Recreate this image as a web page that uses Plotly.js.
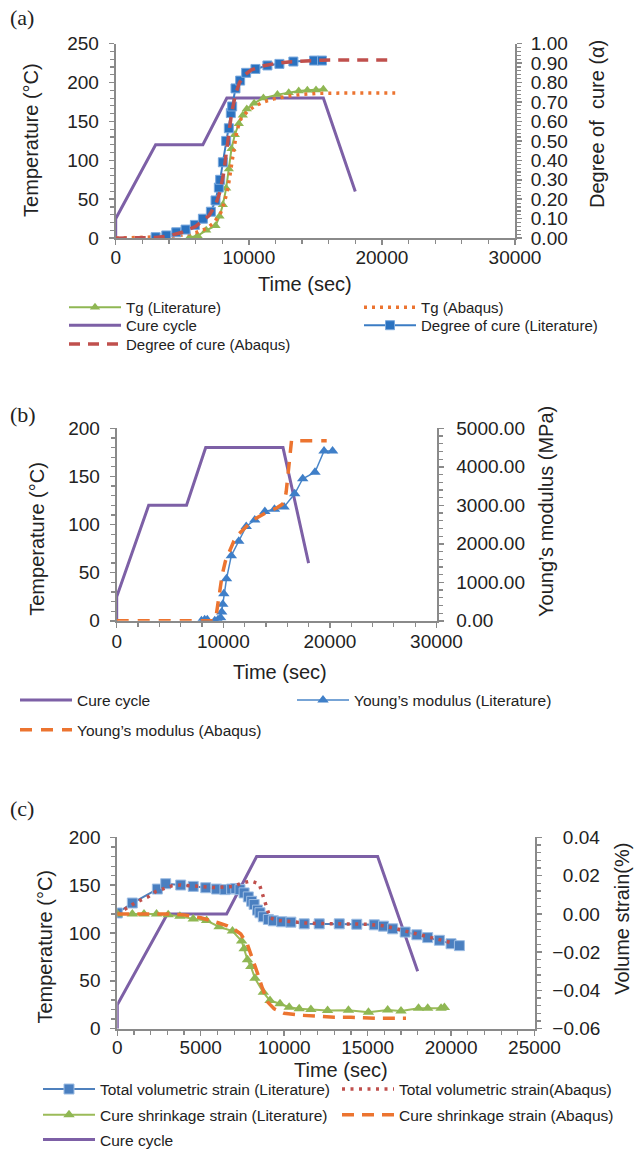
<!DOCTYPE html>
<html><head><meta charset="utf-8">
<script src="https://cdn.plot.ly/plotly-3.0.1.min.js"></script>
<style>html,body{margin:0;padding:0;background:#fff;width:636px;height:1157px;overflow:hidden}#chart{display:block;width:636px;height:1157px;overflow:hidden}</style>
</head><body><div id="chart"></div>
<script>
// ---------- shared cure cycle ----------
const cureTime = [0, 0, 3000, 6550, 8350, 15600, 18000];
const cureTemp = [0, 25, 120, 120, 180, 180, 60];

// ---------- panel (a) ----------
const tgLitTime = [5550, 6150, 6800, 7500, 7800, 8050, 8300, 8500, 8700, 8950, 9250, 9550, 9850, 10400, 11100, 12150, 13000, 13750, 14400, 15050, 15600];
const tgLitVal  = [1, 3, 10, 16, 28, 43, 64, 89, 115, 133, 147, 158, 166, 173.5, 180, 184.5, 187, 189, 190, 190.5, 191.5];
const tgAbqTime = [0, 1000, 2000, 3000, 4000, 5000, 6000, 6800, 7400, 7900, 8200, 8450, 8650, 8850, 9100, 9400, 9900, 10400, 11100, 11900, 12900, 13900, 15000, 17000, 21000];
const tgAbqVal  = [0, 0.5, 1, 1, 2, 4, 7, 12, 20, 33, 48, 66, 88, 112, 138, 153, 163, 169, 175, 179, 182.5, 184.5, 186, 186.5, 186.5];
const docLitTime = [3000, 3800, 4550, 5250, 5950, 6550, 7150, 7500, 7750, 7850, 8050, 8300, 8500, 8650, 8750, 9000, 9350, 9800, 10500, 11400, 12300, 13350, 14900, 15500];
const docLitVal  = [0.005, 0.014, 0.03, 0.044, 0.068, 0.10, 0.136, 0.194, 0.26, 0.30, 0.39, 0.50, 0.565, 0.643, 0.677, 0.77, 0.81, 0.85, 0.87, 0.888, 0.896, 0.908, 0.913, 0.913];
const docAbqTime = [0, 1000, 2000, 3000, 4000, 5000, 6000, 6500, 7000, 7500, 7800, 8100, 8400, 8700, 9000, 9300, 9700, 10200, 11000, 12000, 13000, 14000, 15500, 17000, 21000];
const docAbqVal  = [0, 0, 0, 0.003, 0.012, 0.03, 0.06, 0.085, 0.115, 0.17, 0.23, 0.33, 0.48, 0.64, 0.74, 0.8, 0.84, 0.865, 0.885, 0.898, 0.906, 0.911, 0.915, 0.916, 0.916];

// ---------- panel (b) ----------
const ymLitTime = [7950, 8250, 8500, 9200, 9500, 9750, 9850, 9950, 10050, 10300, 10750, 11450, 12150, 12950, 13900, 14800, 15700, 16700, 17450, 18600, 19450, 20250];
const ymLitVal  = [0, 25, 25, 5, 25, 80, 230, 430, 705, 1090, 1690, 2070, 2450, 2620, 2840, 2900, 2960, 3300, 3690, 3860, 4410, 4410];
const ymAbqTime = [0, 9000, 9300, 9500, 9700, 9900, 10200, 10600, 11000, 11500, 12000, 12500, 13000, 13500, 14000, 14500, 15000, 15500, 15750, 15900, 16050, 16200, 16400, 17500, 18500, 19700];
const ymAbqVal  = [0, 0, 80, 450, 850, 1200, 1550, 1820, 2080, 2270, 2420, 2540, 2650, 2740, 2810, 2870, 2930, 3020, 3100, 3350, 3750, 4300, 4680, 4680, 4680, 4680];

// ---------- panel (c) ----------
const tvsLitTime = [0, 900, 2400, 2900, 3800, 4550, 5300, 5950, 6450, 6850, 7100, 7350, 7600, 7850, 8050, 8200, 8400, 8550, 8750, 9050, 9350, 9850, 10400, 11200, 12100, 13300, 14350, 15400, 15950, 16500, 17250, 17950, 18600, 19300, 20000, 20500];
const tvsLitVal  = [0.0005, 0.0057, 0.013, 0.0158, 0.0151, 0.0144, 0.0137, 0.013, 0.0127, 0.013, 0.0133, 0.0127, 0.011, 0.0089, 0.0066, 0.0049, 0.002, 0.0006, -0.0015, -0.0029, -0.0036, -0.0041, -0.0043, -0.0052, -0.0052, -0.0052, -0.0054, -0.0057, -0.0064, -0.0078, -0.0095, -0.0109, -0.0124, -0.0138, -0.0156, -0.0166];
const tvsAbqTime = [0, 450, 900, 1400, 1900, 2300, 2800, 3300, 3800, 4350, 4900, 5400, 5950, 6450, 6950, 7450, 8000, 8500, 8650, 8800, 8950, 9150, 9550, 10050, 10650, 11200, 12000, 13000, 14000, 15000, 16000, 17000, 18000, 19000, 20000];
const tvsAbqVal  = [0, 0.0027, 0.0049, 0.0072, 0.0092, 0.0117, 0.0134, 0.0148, 0.0151, 0.0148, 0.0144, 0.0141, 0.0137, 0.0141, 0.0144, 0.0161, 0.0172, 0.0158, 0.0115, 0.0072, 0.0023, -0.002, -0.0033, -0.0038, -0.0043, -0.0047, -0.005, -0.0051, -0.0052, -0.0054, -0.0062, -0.0084, -0.0107, -0.0128, -0.015];
const csLitTime = [0, 900, 1600, 2350, 3050, 3750, 4550, 5350, 6100, 6900, 7450, 7600, 7800, 8000, 8250, 8750, 9150, 9750, 10300, 10900, 11600, 12600, 13850, 15050, 16200, 17000, 18050, 18600, 19400, 19600];
const csLitVal  = [0, 0, 0, 0, -0.0005, -0.0012, -0.0026, -0.0035, -0.0067, -0.009, -0.0142, -0.0182, -0.024, -0.0275, -0.0337, -0.041, -0.0453, -0.047, -0.0488, -0.0496, -0.05, -0.0505, -0.0504, -0.0514, -0.0502, -0.0508, -0.0493, -0.0493, -0.0493, -0.0489];
const csAbqTime = [0, 1000, 2000, 3000, 4000, 5000, 6000, 6600, 7000, 7400, 7800, 8100, 8400, 8700, 9000, 9400, 10000, 11000, 12000, 13000, 14000, 15500, 17300];
const csAbqVal  = [0, 0, 0, 0, -0.0005, -0.002, -0.0045, -0.0063, -0.008, -0.0105, -0.016, -0.023, -0.031, -0.039, -0.046, -0.0496, -0.052, -0.053, -0.0536, -0.054, -0.0541, -0.0546, -0.0546];
const strainTicks = [-0.06, -0.04, -0.02, 0, 0.02, 0.04];
const strainTickText = ["\u22120.06", "\u22120.04", "\u22120.02", "\u00a0\u00a00.00", "\u00a0\u00a00.02", "\u00a0\u00a00.04"];

// ---------- styling helpers ----------
const W = 636, H = 1157;
const px = v => v / W, py = v => 1 - v / H;
const GRAY = '#8a8a8a', TXT = '#222222';
const FONT = 'Liberation Sans, Arial, sans-serif';
const PURPLE = '#7d60a6', GREEN = '#8fb753', ORANGE = '#ec7430', RED = '#c0504d', BLUE = '#3b7cc4';

function ax(extra) {
  return Object.assign({
    showline: true, linecolor: GRAY, linewidth: 2, showgrid: false, zeroline: false,
    ticks: 'outside', ticklen: 5, tickwidth: 1.5, tickcolor: GRAY,
    tickfont: {size: 19, color: TXT, family: FONT}, fixedrange: true
  }, extra);
}
function minor(d) { return {dtick: d, ticks: 'outside', ticklen: 4, tickwidth: 1.2, tickcolor: GRAY, showgrid: false}; }
function leg(sx, cy, size) {
  return {x: px(sx - 5), y: py(cy), xanchor: 'left', yanchor: 'middle', bgcolor: 'rgba(0,0,0,0)',
          borderwidth: 0, itemwidth: 52, font: {size: size, color: TXT, family: FONT}};
}
function label(text, cx, cy, angle, size, family) {
  return {text: text, x: px(cx), y: py(cy), xref: 'paper', yref: 'paper', xanchor: 'center', yanchor: 'middle',
          showarrow: false, textangle: angle, font: {family: family || FONT, size: size || 20, color: TXT}};
}

const traces = [
  // (a)
  {x: cureTime, y: cureTemp, xaxis: 'x', yaxis: 'y', name: 'Cure cycle', mode: 'lines',
   line: {color: PURPLE, width: 3}, legend: 'legend3'},
  {x: tgLitTime, y: tgLitVal, xaxis: 'x', yaxis: 'y', name: 'Tg (Literature)', mode: 'lines+markers',
   line: {color: GREEN, width: 2}, marker: {symbol: 'triangle-up', size: 9, color: GREEN}, legend: 'legend'},
  {x: tgAbqTime, y: tgAbqVal, xaxis: 'x', yaxis: 'y', name: 'Tg (Abaqus)', mode: 'lines',
   line: {color: ORANGE, width: 3.5, dash: '3px,5px'}, legend: 'legend2'},
  {x: docLitTime, y: docLitVal, xaxis: 'x', yaxis: 'y2', name: 'Degree of cure (Literature)', mode: 'lines+markers',
   line: {color: BLUE, width: 2}, marker: {symbol: 'square', size: 9, color: '#2a72c0', line: {color: '#7aa9dd', width: 1}}, legend: 'legend4'},
  {x: docAbqTime, y: docAbqVal, xaxis: 'x', yaxis: 'y2', name: 'Degree of cure (Abaqus)', mode: 'lines',
   line: {color: RED, width: 3.5, dash: '11px,8px'}, legend: 'legend5'},
  // (b)
  {x: cureTime, y: cureTemp, xaxis: 'x2', yaxis: 'y3', name: 'Cure cycle', mode: 'lines',
   line: {color: PURPLE, width: 3}, legend: 'legend6'},
  {x: ymLitTime, y: ymLitVal, xaxis: 'x2', yaxis: 'y4', name: 'Young\u2019s modulus (Literature)', mode: 'lines+markers',
   line: {color: '#4a86c8', width: 1.5}, marker: {symbol: 'triangle-up', size: 10, color: '#3f7fc8'}, legend: 'legend7'},
  {x: ymAbqTime, y: ymAbqVal, xaxis: 'x2', yaxis: 'y4', name: 'Young\u2019s modulus (Abaqus)', mode: 'lines',
   line: {color: ORANGE, width: 3.5, dash: '12px,9px'}, legend: 'legend8'},
  // (c)
  {x: cureTime, y: cureTemp, xaxis: 'x3', yaxis: 'y5', name: 'Cure cycle', mode: 'lines',
   line: {color: PURPLE, width: 3}, legend: 'legend13'},
  {x: tvsLitTime, y: tvsLitVal, xaxis: 'x3', yaxis: 'y6', name: 'Total volumetric strain (Literature)', mode: 'lines+markers',
   line: {color: '#4f81bd', width: 2}, marker: {symbol: 'square', size: 10, color: '#4a7fc0', line: {color: '#9dbde3', width: 1}}, legend: 'legend9'},
  {x: tvsAbqTime, y: tvsAbqVal, xaxis: 'x3', yaxis: 'y6', name: 'Total volumetric strain(Abaqus)', mode: 'lines',
   line: {color: RED, width: 3.5, dash: '3px,5.5px'}, legend: 'legend10'},
  {x: csLitTime, y: csLitVal, xaxis: 'x3', yaxis: 'y6', name: 'Cure shrinkage strain (Literature)', mode: 'lines+markers',
   line: {color: '#9bbb59', width: 2}, marker: {symbol: 'triangle-up', size: 10, color: GREEN}, legend: 'legend11'},
  {x: csAbqTime, y: csAbqVal, xaxis: 'x3', yaxis: 'y6', name: 'Cure shrinkage strain (Abaqus)', mode: 'lines',
   line: {color: ORANGE, width: 3.5, dash: '12px,8px'}, legend: 'legend12'}
];
traces.forEach(t => { t.showlegend = true; t.hoverinfo = 'skip'; });

const SERIF = 'Liberation Serif, Times New Roman, serif';
const layout = {
  width: W, height: H, margin: {l: 0, r: 0, t: 0, b: 0},
  paper_bgcolor: '#fff', plot_bgcolor: 'rgba(0,0,0,0)',
  font: {family: FONT, color: TXT},
  // (a)
  xaxis: ax({domain: [px(115.7), px(515)], range: [0, 30000], dtick: 10000, tickformat: 'd', anchor: 'y',
             minor: minor(2000), ticklabelstandoff: -4}),
  yaxis: ax({domain: [py(240), py(44)], range: [0, 250], dtick: 50, anchor: 'x', minor: minor(10), ticklabelstandoff: 6}),
  yaxis2: ax({overlaying: 'y', side: 'right', anchor: 'x', range: [0, 1], dtick: 0.1, tickformat: '.2f',
              minor: minor(0.02), ticklabelstandoff: 5}),
  // (b)
  xaxis2: ax({domain: [px(116.7), px(436.5)], range: [0, 30000], dtick: 10000, tickformat: 'd', anchor: 'y3',
              minor: minor(2000), ticklabelstandoff: -3}),
  yaxis3: ax({domain: [py(625.7), py(431.7)], range: [0, 200], dtick: 50, anchor: 'x2', minor: minor(10), ticklabelstandoff: 6}),
  yaxis4: ax({overlaying: 'y3', side: 'right', anchor: 'x2', range: [0, 5000], dtick: 1000, tickformat: '.2f',
              minor: minor(200), ticklabelstandoff: 9}),
  // (c)
  xaxis3: ax({domain: [px(117.3), px(534.5)], range: [0, 25000], dtick: 5000, tickformat: 'd', anchor: 'y5',
              minor: minor(1000), ticklabelstandoff: -4}),
  yaxis5: ax({domain: [py(1036.7), py(844)], range: [0, 200], dtick: 50, anchor: 'x3', minor: minor(10), ticklabelstandoff: 6}),
  yaxis6: ax({overlaying: 'y5', side: 'right', anchor: 'x3', range: [-0.06, 0.04], tickvals: strainTicks,
              ticktext: strainTickText, tickmode: 'array', minor: minor(0.004), ticklabelstandoff: 7}),
  legend: leg(69, 310, 15), legend2: leg(364, 310, 15), legend3: leg(69, 328, 15),
  legend4: leg(364, 328, 15), legend5: leg(69, 347, 15),
  legend6: leg(20, 706, 15.5), legend7: leg(297, 706, 15.5), legend8: leg(20, 736, 15.5),
  legend9: leg(43, 1098, 15.5), legend10: leg(342, 1098, 15.5), legend11: leg(43, 1124, 15.5),
  legend12: leg(342, 1124, 15.5), legend13: leg(43, 1149, 15.5),
  annotations: [
    Object.assign(label('(a)', 0, 18, 0, 22, SERIF), {x: px(8), xanchor: 'left'}),
    Object.assign(label('(b)', 0, 418, 0, 22, SERIF), {x: px(8), xanchor: 'left'}),
    Object.assign(label('(c)', 0, 815, 0, 22, SERIF), {x: px(8), xanchor: 'left'}),
    // axis titles
    label('Time (sec)', 305, 286, 0),
    label('Temperature (\u00b0C)', 31, 141, -90),
    label('Degree of  cure (\u03b1)', 597, 125, -90),
    label('Time (sec)', 280, 677, 0),
    label('Temperature (\u00b0C)', 37, 543, -90),
    label('Young\u2019s modulus (MPa)', 546, 516, -90),
    label('Time (sec)', 341, 1078, 0),
    label('Temperature (\u00b0C)', 45, 954, -90),
    label('Volume strain(%)', 622, 926, -90)
  ]
};

Plotly.newPlot('chart', traces, layout, {staticPlot: true, displayModeBar: false});
</script></body></html>
